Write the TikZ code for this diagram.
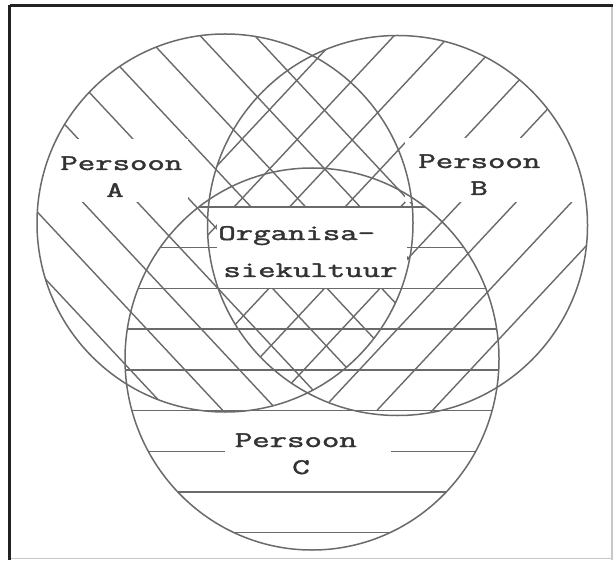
\documentclass[tikz,border=0pt]{standalone}
\usepackage{fontspec}
\usepackage{graphicx}
\newfontfamily\lblfont{Latin Modern Mono}[FakeBold=1.6]
\definecolor{hatchgray}{HTML}{6A6A6A}
\definecolor{txtgray}{HTML}{333333}
\definecolor{framedark}{HTML}{222222}
\definecolor{framelight}{HTML}{C8C8C8}
\newcommand\sqz[1]{\scalebox{1}[0.66]{#1}}
\begin{document}
\begin{tikzpicture}[x=0.5pt,y=-0.5pt,
  hatch/.style={draw=hatchgray, line width=0.7pt},
  ring/.style={draw=hatchgray, line width=0.75pt},
  blank/.style={fill=white},
  lbl/.style={inner sep=0pt, text=txtgray, font=\lblfont\fontsize{16.9pt}{18pt}\selectfont}]
\useasboundingbox (0,0) rectangle (613,560);
\fill[white] (0,0) rectangle (613,560);
% circle centres
\coordinate (ca) at (225,223);
\coordinate (cb) at (397.5,225.5);
\coordinate (cc) at (312,359);
% hatching of A
\begin{scope}
  \clip (ca) ellipse [x radius=94pt, y radius=94.5pt];
  \foreach \k in {-8,...,8} {
    \draw[hatch] ({3+54.6*\k},0) -- ({3+54.6*\k+523.4},560);
  }
\end{scope}
% hatching of B
\begin{scope}
  \clip (cb) ellipse [x radius=95pt, y radius=95pt];
  \foreach \k in {-6,...,10} {
    \draw[hatch] ({483+55.5*\k},0) -- ({483+55.5*\k-523.4},560);
  }
\end{scope}
% hatching of C
\begin{scope}
  \clip (cc) ellipse [x radius=93.5pt, y radius=95.5pt];
  \foreach \k in {0,...,8} {
    \draw[hatch] (100,{207+40.7*\k}) -- (530,{207+40.7*\k});
  }
\end{scope}
% blank areas behind the labels
\fill[blank] (40,139) rectangle (188,202);
\fill[blank] (405,138) rectangle (590,202);
\fill[blank] (217,208) rectangle (407,287.5);
\fill[blank] (225,411.4) rectangle (391,491);
% outlines
\draw[ring] (ca) ellipse [x radius=94pt, y radius=94.5pt];
\draw[ring] (cb) ellipse [x radius=95pt, y radius=95pt];
\draw[ring] (cc) ellipse [x radius=93.5pt, y radius=95.5pt];
% labels
\node[lbl, anchor=base west] (pa1) at (60,170) {\sqz{Persoon}};
\node[lbl, anchor=base] (pa2) at (115,197) {\sqz{A}};
\node[lbl, anchor=base west] (pb1) at (418,168) {\sqz{Persoon}};
\node[lbl, anchor=base] (pb2) at (479,195) {\sqz{B}};
\node[lbl, anchor=base west] (o1) at (218,240) {\sqz{Organisa-}};
\node[lbl, anchor=base west] (o2) at (223,277) {\sqz{siekultuur}};
\node[lbl, anchor=base west] (pc1) at (234.5,447) {\sqz{Persoon}};
\node[lbl, anchor=base] (pc2) at (301,474) {\sqz{C}};
% frame
\draw[framelight, line width=0.6pt] (612,5) -- (612,560);
\draw[framelight, line width=0.6pt] (9,558.8) -- (613,558.8);
\draw[framedark, line width=1.1pt] (9.5,5.5) -- (613,5.5);
\draw[framedark, line width=1.1pt] (9.5,5) -- (9.5,560);
\end{tikzpicture}
\end{document}
